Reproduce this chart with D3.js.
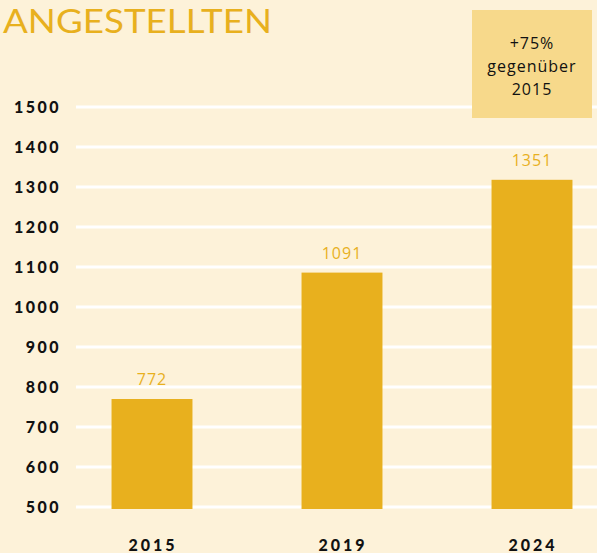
<!DOCTYPE html>
<html>
<head>
<meta charset="utf-8">
<script src="https://cdn.jsdelivr.net/npm/d3@7"></script>
<style>
  html, body { margin: 0; padding: 0; background: #fdf2d9; overflow: hidden; }
  svg { display: block; }
</style>
</head>
<body>
<svg id="chart"></svg>
<script>
// data
const years = ["2015", "2019", "2024"];
const labels = [772, 1091, 1351];
// bar heights as drawn in the original (they do not match the labels exactly)
const barValues = [770, 1086, 1318];
const yTicks = [500, 600, 700, 800, 900, 1000, 1100, 1200, 1300, 1400, 1500];
const boxLines = ["+75%", "gegenüber", "2015"];

const W = 597, H = 553;
const gold = "#e8b01e";
const svg = d3.select("#chart").attr("width", W).attr("height", H);

svg.append("rect").attr("width", W).attr("height", H).attr("fill", "#fdf2d9");

// title
svg.append("text")
  .attr("x", 3).attr("y", 33)
  .attr("fill", gold)
  .style("font-family", "Lato, 'Open Sans', sans-serif")
  .style("font-size", "32px")
  .attr("textLength", 269)
  .attr("lengthAdjust", "spacingAndGlyphs")
  .text("ANGESTELLTEN");

const y = d3.scaleLinear().domain([500, 1500]).range([507, 107]);
const x = d3.scaleBand().domain(years).range([57, 627]).paddingInner(0.574).paddingOuter(0.287);

// gridlines
svg.append("g").selectAll("line")
  .data(yTicks)
  .enter().append("line")
  .attr("x1", 76).attr("x2", W)
  .attr("y1", d => y(d)).attr("y2", d => y(d))
  .attr("stroke", "#fff").attr("stroke-width", 3);

// y axis labels
svg.append("g").selectAll("text")
  .data(yTicks)
  .enter().append("text")
  .attr("x", 61).attr("y", d => y(d) + 6)
  .attr("text-anchor", "end")
  .attr("fill", "#111")
  .style("font-family", "Lato, 'DejaVu Sans', sans-serif")
  .style("font-weight", "900")
  .style("font-size", "16px")
  .style("letter-spacing", "2.5px")
  .text(d => d);

// bars
svg.append("g").selectAll("rect")
  .data(barValues)
  .enter().append("rect")
  .attr("x", (d, i) => x(years[i]))
  .attr("width", x.bandwidth())
  .attr("y", d => y(d))
  .attr("height", d => y(500) + 2 - y(d))
  .attr("fill", gold);

// value labels
svg.append("g").selectAll("text")
  .data(labels)
  .enter().append("text")
  .attr("x", (d, i) => x(years[i]) + x.bandwidth() / 2)
  .attr("y", (d, i) => y(barValues[i]) - 14)
  .attr("text-anchor", "middle")
  .attr("fill", gold)
  .style("font-family", "'Open Sans', sans-serif")
  .style("font-size", "16px")
  .style("letter-spacing", "1px")
  .text(d => d);

// x labels
svg.append("g").selectAll("text")
  .data(years)
  .enter().append("text")
  .attr("x", d => x(d) + x.bandwidth() / 2 + 1)
  .attr("y", 551)
  .attr("text-anchor", "middle")
  .attr("fill", "#111")
  .style("font-family", "Lato, 'DejaVu Sans', sans-serif")
  .style("font-weight", "900")
  .style("font-size", "16px")
  .style("letter-spacing", "3px")
  .text(d => d);

// callout box
const box = svg.append("g");
box.append("rect")
  .attr("x", 472).attr("y", 10)
  .attr("width", 120).attr("height", 108)
  .attr("fill", "#f7d98b");
box.selectAll("text")
  .data(boxLines)
  .enter().append("text")
  .attr("x", 532)
  .attr("y", (d, i) => 49 + i * 23)
  .attr("text-anchor", "middle")
  .attr("fill", "#111")
  .style("font-family", "'Open Sans', sans-serif")
  .style("font-size", "16px")
  .style("letter-spacing", "1px")
  .text(d => d);
</script>
</body>
</html>
